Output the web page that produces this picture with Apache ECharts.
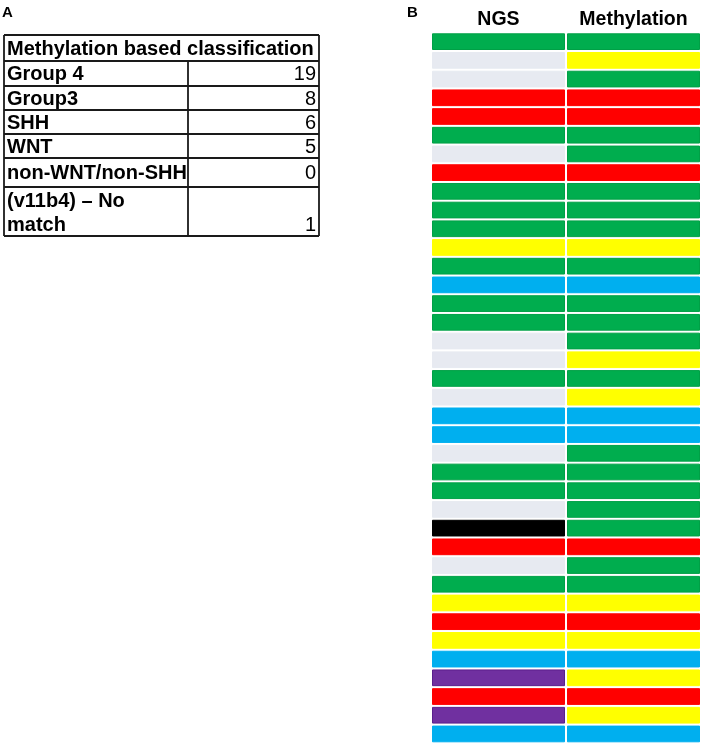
<!DOCTYPE html>
<html>
<head>
<meta charset="utf-8">
<script src="https://cdn.jsdelivr.net/npm/echarts@6/dist/echarts.min.js"></script>
<style>
html,body{margin:0;padding:0;background:#fff;}
#chart{width:702px;height:744px;}
</style>
</head>
<body>
<div id="chart"></div>
<script>
// ---- Panel A data (table) ----
const tableTitle = 'Methylation based classification';
const tableLabels = ['Group 4', 'Group3', 'SHH', 'WNT', 'non-WNT/non-SHH', '(v11b4) – No\nmatch'];
const tableCounts = [19, 8, 6, 5, 0, 1];

// ---- Panel B data (heatmap) ----
const columns = ['NGS', 'Methylation'];
const ngsClass = ['G4','NA','NA','SHH','SHH','G4','NA','SHH','G4','G4','G4','G3','G4','WNT','G4','G4','NA','NA','G4','NA',
                  'WNT','WNT','NA','G4','G4','NA','BLK','SHH','NA','G4','G3','SHH','G3','WNT','PUR','SHH','PUR','WNT'];
const methClass = ['G4','G3','G4','SHH','SHH','G4','G4','SHH','G4','G4','G4','G3','G4','WNT','G4','G4','G4','G3','G4','G3',
                   'WNT','WNT','G4','G4','G4','G4','G4','SHH','G4','G4','G3','SHH','G3','WNT','G3','SHH','G3','WNT'];
const classCodes = ['G4', 'G3', 'SHH', 'WNT', 'NA', 'BLK', 'PUR'];
const classFill   = ['#00AD4E', '#FFFF00', '#FF0000', '#00AFEF', '#E7EAF1', '#000000', '#7030A0'];
const classStroke = ['#00A046', '#FFFF00', '#FF0000', '#00AFEF', '#E7EAF1', '#000000', '#5A1E8C'];

const rowIds = ngsClass.map((_, i) => String(i + 1));
const cellData = [];
ngsClass.forEach((c, i) => cellData.push([0, i, classCodes.indexOf(c)]));
methClass.forEach((c, i) => cellData.push([1, i, classCodes.indexOf(c)]));

// ---- Table graphic (layout) ----
const font = '"Liberation Sans", Arial, sans-serif';
const tLeft = 4, tRight = 319, tDiv = 188;
const rowEdges = [35, 61, 86, 110, 134, 158, 187, 236];
const graphics = [];
function txt(x, y, text, bold, align, size) {
  graphics.push({
    type: 'text', silent: true,
    style: {
      x: x, y: y, text: text,
      font: (bold ? 'bold ' : '') + (size || 20) + 'px ' + font,
      fill: '#000',
      textAlign: align || 'left', textVerticalAlign: 'middle',
      align: align || 'left', verticalAlign: 'middle'
    }
  });
}
function line(x1, y1, x2, y2) {
  graphics.push({ type: 'line', silent: true,
    shape: { x1: x1, y1: y1, x2: x2, y2: y2 },
    style: { stroke: '#1a1a1a', lineWidth: 1.8 } });
}
// borders
rowEdges.forEach(y => line(tLeft, y, tRight, y));
line(tLeft, rowEdges[0], tLeft, rowEdges[rowEdges.length - 1]);
line(tRight, rowEdges[0], tRight, rowEdges[rowEdges.length - 1]);
line(tDiv, rowEdges[1], tDiv, rowEdges[rowEdges.length - 1]);
// header
txt(7, (rowEdges[0] + rowEdges[1]) / 2 + 1, tableTitle, true);
tableLabels.forEach((lab, i) => {
  const top = rowEdges[i + 1], bot = rowEdges[i + 2];
  const lines = lab.split('\n');
  if (lines.length === 1) {
    const cy = (top + bot) / 2 + 1;
    txt(7, cy, lab, true);
    txt(316, cy, String(tableCounts[i]), false, 'right');
  } else {
    lines.forEach((ln, k) => txt(7, top + 14 + k * 24, ln, true));
    txt(316, top + 14 + (lines.length - 1) * 24, String(tableCounts[i]), false, 'right');
  }
});
// panel letters
txt(2, 12.5, 'A', true, 'left', 15);
txt(407, 12.5, 'B', true, 'left', 15);

const chart = echarts.init(document.getElementById('chart'), null, { renderer: 'canvas' });
chart.setOption({
  animation: false,
  backgroundColor: '#fff',
  graphic: graphics,
  grid: { left: 431, right: 1, top: 32.3, bottom: 0.7, containLabel: false },
  xAxis: {
    type: 'category', data: columns, position: 'top',
    axisLine: { show: false }, axisTick: { show: false }, splitLine: { show: false },
    axisLabel: { interval: 0, hideOverlap: false, margin: 13, fontFamily: font, fontWeight: 'bold', fontSize: 19.5, color: '#000', verticalAlign: 'middle' }
  },
  yAxis: {
    type: 'category', data: rowIds, inverse: true, show: false
  },
  series: [{
    type: 'custom',
    data: cellData,
    encode: { x: 0, y: 1 },
    renderItem: function (params, api) {
      const p = api.coord([api.value(0), api.value(1)]);
      const s = api.size([1, 1]);
      const k = api.value(2);
      return {
        type: 'rect',
        shape: { x: p[0] - s[0] / 2 + 1.5, y: p[1] - s[1] / 2 + 1.5, width: s[0] - 3, height: s[1] - 3 },
        style: { fill: classFill[k], stroke: classStroke[k], lineWidth: 1 }
      };
    }
  }]
});
</script>
</body>
</html>
